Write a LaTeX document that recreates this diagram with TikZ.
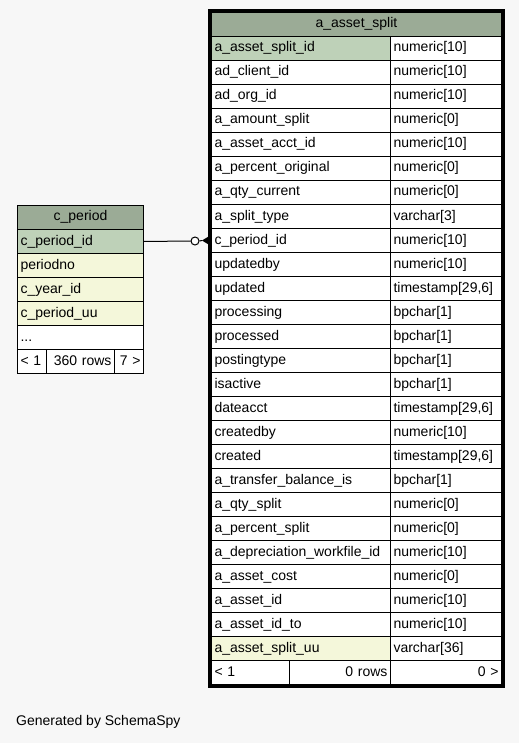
\documentclass[tikz,border=0pt]{standalone}
\usepackage{fontspec}
\setmainfont{Liberation Sans}
\usetikzlibrary{calc}
\definecolor{bgc}{HTML}{F7F7F7}
\definecolor{headc}{HTML}{9BAB96}
\definecolor{pkc}{HTML}{BED1B8}
\definecolor{ylc}{HTML}{F4F7DA}
\tikzset{
  cellbase/.style={draw=black, line width=1pt, anchor=north west, inner xsep=3pt, inner ysep=0pt,
     minimum height=24pt, text height=10pt, text depth=3pt, font=\fontsize{14}{16}\selectfont},
  lcell/.style={cellbase, text width=#1-6pt, minimum width=#1, align=left},
  rcell/.style={cellbase, text width=#1-6pt, minimum width=#1, align=right},
  ccell/.style={cellbase, text width=#1-6pt, minimum width=#1, align=center},
}
\begin{document}
\begin{tikzpicture}[x=1pt,y=-1pt]
\fill[bgc] (0,0) rectangle (519,743);
\useasboundingbox (0,0) rectangle (519,743);

% c_period
\node[ccell=126pt, fill=headc] (cph) at (17,205) {c\_period};
\node[lcell=126pt, fill=pkc] (cpid) at (17,229) {c\_period\_id};
\node[lcell=126pt, fill=ylc] (cpno) at (17,253) {periodno};
\node[lcell=126pt, fill=ylc] (cpyr) at (17,277) {c\_year\_id};
\node[lcell=126pt, fill=ylc] (cpuu) at (17,301) {c\_period\_uu};
\node[lcell=126pt, fill=white] (cpdots) at (17,325) {...};
\node[lcell=29pt, fill=white] (cpf1) at (17,349) {< 1};
\node[rcell=68pt, fill=white] (cpf2) at (46,349) {360 rows};
\node[rcell=29pt, fill=white] (cpf3) at (114,349) {7 >};

% a_asset_split
\node[ccell=290pt, fill=headc] (ash) at (211,12) {a\_asset\_split};
\foreach \n/\t/\c [count=\i from 0] in {
 a\_asset\_split\_id/numeric[10]/pkc,
 ad\_client\_id/numeric[10]/white,
 ad\_org\_id/numeric[10]/white,
 a\_amount\_split/numeric[0]/white,
 a\_asset\_acct\_id/numeric[10]/white,
 a\_percent\_original/numeric[0]/white,
 a\_qty\_current/numeric[0]/white,
 a\_split\_type/varchar[3]/white,
 c\_period\_id/numeric[10]/white,
 updatedby/numeric[10]/white,
 updated/timestamp[29{,}6]/white,
 processing/bpchar[1]/white,
 processed/bpchar[1]/white,
 postingtype/bpchar[1]/white,
 isactive/bpchar[1]/white,
 dateacct/timestamp[29{,}6]/white,
 createdby/numeric[10]/white,
 created/timestamp[29{,}6]/white,
 a\_transfer\_balance\_is/bpchar[1]/white,
 a\_qty\_split/numeric[0]/white,
 a\_percent\_split/numeric[0]/white,
 a\_depreciation\_workfile\_id/numeric[10]/white,
 a\_asset\_cost/numeric[0]/white,
 a\_asset\_id/numeric[10]/white,
 a\_asset\_id\_to/numeric[10]/white,
 a\_asset\_split\_uu/varchar[36]/ylc}
{
  \node[lcell=179pt, fill=\c] (as\i) at (211,36+24*\i) {\n};
  \node[lcell=111pt, fill=white] (ast\i) at (390,36+24*\i) {\t};
}
\node[lcell=78pt, fill=white] (asf1) at (211,660) {< 1};
\node[rcell=101pt, fill=white] (asf2) at (289,660) {0 rows};
\node[rcell=111pt, fill=white] (asf3) at (390,660) {0 >};
\draw[line width=3pt] ($(ash.north west)+(-1.5,-1.5)$) rectangle ($(asf3.south east)+(1.5,1.5)$);

% connector
\node[circle, draw=black, line width=1pt, fill=white, minimum size=8pt, inner sep=0pt] (circ) at (195,241) {};
\draw[line width=1pt] (cpid.east) -- (circ.west);
\coordinate (tip) at ($(as8.west)+(-9,0)$);
\draw[line width=1pt] (circ.east) -- (tip);
\fill[black] (tip) -- ($(as8.west)+(0,-5.5)$) -- ($(as8.west)+(0,5.5)$) -- cycle;

\node[anchor=west, inner sep=0pt, font=\fontsize{14}{16}\selectfont] (gen) at (16,722) {Generated by SchemaSpy};
\end{tikzpicture}
\end{document}
